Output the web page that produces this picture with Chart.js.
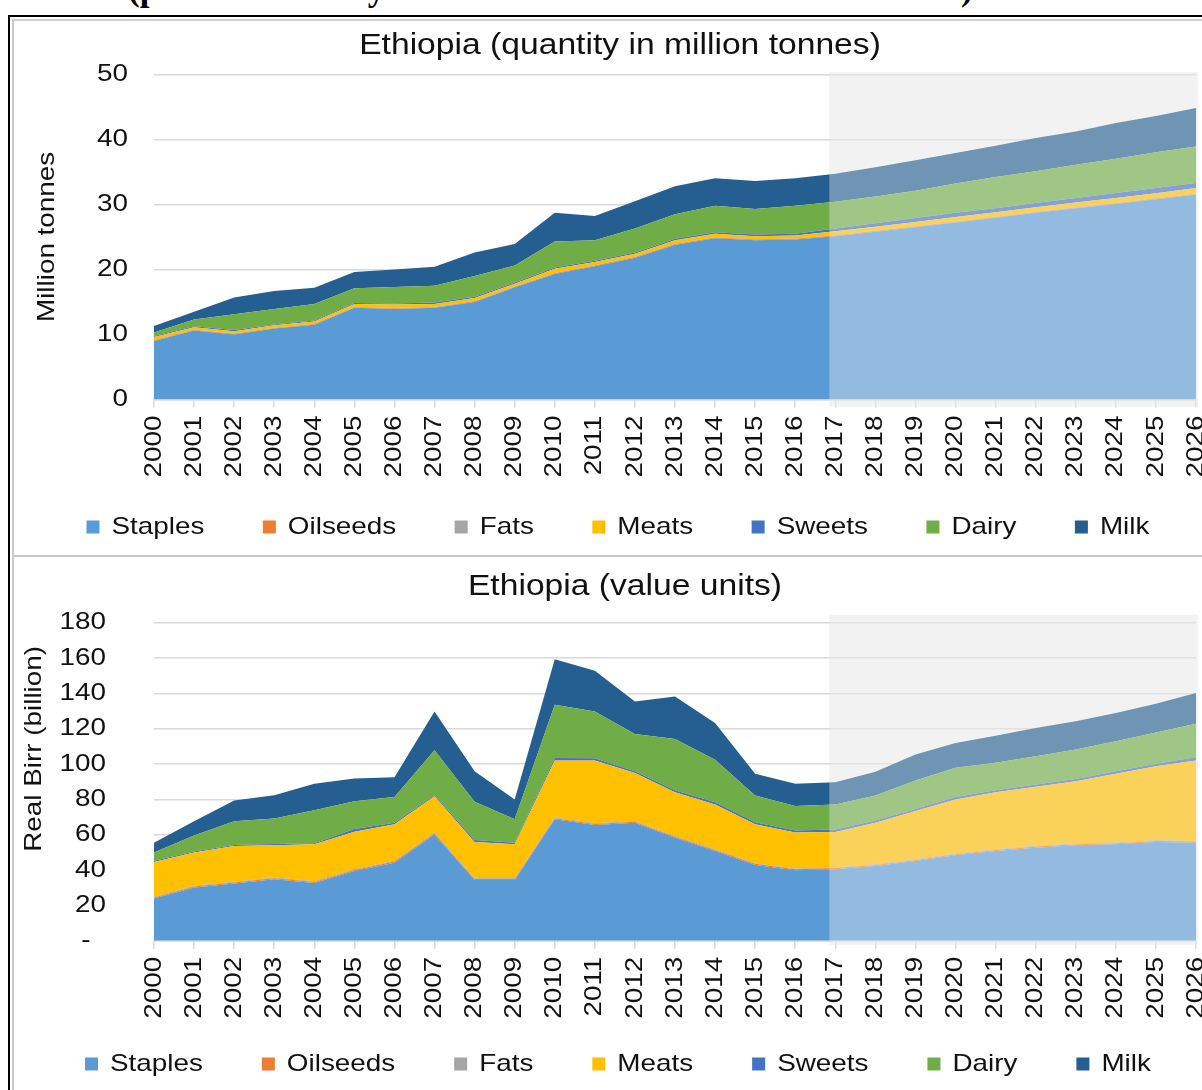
<!DOCTYPE html>
<html>
<head>
<meta charset="utf-8">
<script src="https://cdn.jsdelivr.net/npm/chart.js@4.4.0/dist/chart.umd.min.js"></script>
<style>
html,body{margin:0;padding:0;background:#fff;overflow:hidden;width:1202px;height:1090px;}
#hdr{position:absolute;left:128px;top:-20px;white-space:nowrap;font-family:'Liberation Serif','Times New Roman',serif;font-weight:bold;line-height:1;color:#000;}
canvas{position:absolute;left:12px;}
#c1{top:16px;}
#c2{top:557px;}
.ln{position:absolute;z-index:5;}
</style>
</head>
<body>
<span id="hdr">(pre-2017 history and 2017–2026 modelled in real terms)</span>
<canvas id="c1" width="1240" height="539"></canvas>
<canvas id="c2" width="1240" height="533"></canvas>
<div class="ln" style="left:8px;top:15px;width:1200px;height:2px;background:#000;"></div>
<div class="ln" style="left:12px;top:19px;width:1195px;height:2px;background:#cfcfcf;"></div>
<div class="ln" style="left:8px;top:15px;width:2px;height:1080px;background:#000;"></div>
<div class="ln" style="left:12px;top:19px;width:2px;height:1075px;background:#c8c8c8;"></div>
<div class="ln" style="left:14px;top:555px;width:1195px;height:2px;background:#c8c8c8;"></div>
<script>
// ---------------- data ----------------
const years = ['2000','2001','2002','2003','2004','2005','2006','2007','2008','2009','2010','2011','2012','2013','2014','2015','2016','2017','2018','2019','2020','2021','2022','2023','2024','2025','2026'];
const projectionStart = '2017';
const seriesNames = ['Staples','Oilseeds','Fats','Meats','Sweets','Dairy','Milk'];

// Quantity (million tonnes)
const qStaples  = [9.0,10.6,10.0,10.9,11.5,14.1,13.9,14.1,15.0,17.25,19.3,20.5,21.8,23.8,24.8,24.5,24.6,25.1,25.8,26.5,27.2,27.95,28.7,29.4,30.05,30.8,31.5];
const qOilseeds = [0.1,0.1,0.1,0.1,0.1,0.1,0.1,0.1,0.1,0.1,0.1,0.1,0.1,0.1,0.1,0.1,0.1,0.1,0.1,0.1,0.1,0.1,0.1,0.1,0.1,0.1,0.1];
const qFats     = [0.05,0.05,0.05,0.05,0.05,0.05,0.05,0.05,0.05,0.05,0.05,0.05,0.05,0.05,0.05,0.05,0.05,0.05,0.05,0.05,0.05,0.05,0.05,0.05,0.05,0.05,0.05];
const qMeats    = [0.45,0.35,0.35,0.35,0.35,0.45,0.55,0.45,0.45,0.4,0.65,0.5,0.45,0.55,0.55,0.45,0.45,0.6,0.6,0.65,0.7,0.7,0.7,0.75,0.8,0.75,0.85];
const qSweets   = [0.15,0.15,0.2,0.15,0.15,0.15,0.15,0.2,0.2,0.2,0.2,0.2,0.2,0.2,0.2,0.25,0.3,0.45,0.55,0.6,0.65,0.6,0.65,0.7,0.75,0.8,0.8];
const qDairy    = [0.55,1.05,2.4,2.35,2.55,2.25,2.55,2.6,3.2,2.6,4.0,3.15,3.7,3.8,4.1,3.95,4.3,4.1,4.1,4.2,4.5,4.8,4.9,5.1,5.25,5.5,5.6];
const qMilk     = [1.0,1.2,2.6,2.8,2.5,2.5,2.7,2.9,3.6,3.3,4.4,3.7,4.2,4.3,4.2,4.3,4.2,4.3,4.5,4.7,4.7,4.8,5.1,5.1,5.5,5.6,5.9];

// Value (Real Birr, billion)
const vStaples  = [23.9,30.1,32.4,34.8,32.6,39.5,44.2,60.2,34.3,34.3,68.7,65.5,66.8,58.3,50.8,42.9,39.9,40.5,42.3,45.1,48.4,50.8,52.7,54.0,54.6,55.9,55.5];
const vOilseeds = [0.6,0.6,0.6,0.6,0.6,0.6,0.6,0.6,0.6,0.6,0.6,0.6,0.6,0.6,0.6,0.6,0.6,0.6,0.6,0.6,0.6,0.6,0.6,0.6,0.6,0.6,0.6];
const vFats     = [0.4,0.4,0.4,0.4,0.4,0.4,0.4,0.4,0.4,0.4,0.4,0.4,0.4,0.4,0.4,0.4,0.4,0.4,0.4,0.4,0.4,0.4,0.4,0.4,0.4,0.4,0.4];
const vMeats    = [19.7,18.8,20.2,18.2,21.0,21.2,20.7,20.6,20.6,19.3,32.3,35.5,27.2,24.8,25.3,22.0,20.3,20.0,23.5,27.3,30.6,32.3,33.4,35.3,39.0,41.9,45.5];
const vSweets   = [0.6,0.6,0.6,0.8,0.6,1.6,0.9,0.7,1.1,0.9,1.5,1.3,1.0,1.1,1.3,1.2,1.2,1.5,1.2,1.2,1.3,1.1,1.3,1.3,1.3,1.4,1.9];
const vDairy    = [4.7,9.1,13.5,14.4,18.7,15.7,14.5,25.3,21.7,13.2,30.1,26.5,21.0,29.0,24.1,15.1,13.8,14.1,14.2,16.1,16.6,15.5,16.0,16.6,17.0,17.7,19.0];
const vMilk     = [5.6,8.1,11.7,13.2,14.9,12.8,11.3,22.0,17.2,11.3,25.8,23.1,18.4,24.1,20.7,12.4,12.6,12.6,13.4,14.7,14.1,15.4,16.0,16.0,16.0,16.2,17.3];

const qTicksMax = 50, qTickStep = 10;
const vTicksMax = 180, vTickStep = 20;
const zeroTickLabel = '-';

// ---------------- styling ----------------
const colors = ['#5B9BD5','#ED7D31','#A5A5A5','#FFC000','#4472C4','#70AD47','#255E91'];
const FONT = "'Liberation Sans', Arial, sans-serif";
const TXT = '#111';

// Text in the reference is horizontally wider than Arial: stretch glyphs
const SX = 1.16;
(function(){
  const P = CanvasRenderingContext2D.prototype;
  const of = P.fillText, om = P.measureText;
  P.fillText = function(t,x,y,mw){
    this.save(); this.translate(x,y); this.scale(SX,1);
    if (mw === undefined) of.call(this,t,0,0); else of.call(this,t,0,0,mw/SX);
    this.restore();
  };
  P.measureText = function(t){
    const m = om.call(this,t);
    return {width:m.width*SX, actualBoundingBoxAscent:m.actualBoundingBoxAscent, actualBoundingBoxDescent:m.actualBoundingBoxDescent,
      actualBoundingBoxLeft:m.actualBoundingBoxLeft*SX, actualBoundingBoxRight:m.actualBoundingBoxRight*SX,
      fontBoundingBoxAscent:m.fontBoundingBoxAscent, fontBoundingBoxDescent:m.fontBoundingBoxDescent};
  };
})();

// do not clip the rotated year labels to the (deliberately short) x-axis box
(function(){
  const Cat = Chart.registry.getScale('category');
  Cat.prototype._computeLabelArea = function(){ return undefined; };
})();

// header (mostly cut off at the top of the picture)
(function(){
  const h = document.getElementById('hdr');
  h.style.fontSize = '30px';
  const w = h.getBoundingClientRect().width;
  const fs = 30 * 845 / w;
  h.style.fontSize = fs + 'px';
  h.style.top = (0.5 - 0.8375*fs) + 'px';
})();

function fillShade(chart, color){
  const o = chart.options.plugins.shade;
  const {ctx, chartArea, scales} = chart;
  const x0 = scales.x.getPixelForValue(years.indexOf(projectionStart)) - 6;
  ctx.save();
  ctx.fillStyle = color;
  ctx.fillRect(x0, chartArea.top - o.topExt, chartArea.right + 2 - x0, chartArea.bottom - chartArea.top + o.topExt + o.botExt);
  ctx.restore();
}
const shadePlugin = {
  id:'shade',
  beforeDraw(chart){ fillShade(chart, '#F2F2F2'); },
  afterDatasetsDraw(chart){ fillShade(chart, 'rgba(242,242,242,0.37)'); }
};

function buildChart(id, arrays, o){
  const datasets = arrays.map((d,i)=>({
    label: seriesNames[i], data: d,
    backgroundColor: colors[i], borderColor: colors[i], borderWidth: 0,
    pointRadius: 0, pointHoverRadius: 0, tension: 0,
    fill: i === 0 ? 'origin' : '-1'
  }));
  return new Chart(document.getElementById(id), {
    type: 'line',
    data: { labels: years, datasets },
    options: {
      responsive: false, animation: false, devicePixelRatio: 1,
      events: [],
      layout: { padding: { left: o.padLeft, right: o.padRight, top: 0, bottom: o.padBottom } },
      plugins: {
        shade: { topExt: o.shadeTop, botExt: o.shadeBot },
        title: { display: true, text: o.title, color: TXT, font: { family: FONT, size: 29, weight: 'normal' }, padding: { top: 13, bottom: o.titleBottom } },
        legend: { position: 'bottom', align: 'start', labels: { boxWidth: 13, boxHeight: 13, padding: o.legPad, color: TXT, font: { family: FONT, size: 24 } } },
        tooltip: { enabled: false }
      },
      scales: {
        x: {
          grid: { drawOnChartArea: false, drawTicks: true, tickLength: 8, color: '#D9D9D9', lineWidth: 1.5 },
          border: { color: '#D9D9D9', width: 1.5 },
          ticks: { autoSkip: false, minRotation: 90, maxRotation: 90, padding: 8, color: TXT, font: { family: FONT, size: 24 } },
          afterFit(s){ s.height = o.xHeight; }
        },
        y: {
          stacked: true, min: 0, max: o.max,
          ticks: { stepSize: o.step, padding: o.tickPad, color: TXT, font: { family: FONT, size: 24 },
                   callback: (v) => v === 0 ? o.zero : String(v) },
          grid: { color: '#D9D9D9', lineWidth: 1.5, drawTicks: false },
          border: { display: false },
          title: { display: true, text: o.yTitle, align: o.yTitleAlign, color: TXT, font: { family: FONT, size: 24 }, padding: { top: o.yTitlePad, bottom: 0 } },
          afterFit(s){ s.width = 142 - o.padLeft; }
        },
        yr: {
          type: 'linear', position: 'right', display: true,
          grid: { display: false, drawTicks: false }, border: { display: false },
          ticks: { display: false },
          afterFit(s){ s.width = o.rightW; }
        }
      }
    },
    plugins: [shadePlugin]
  });
}

buildChart('c1', [qStaples,qOilseeds,qFats,qMeats,qSweets,qDairy,qMilk], {
  title: 'Ethiopia (quantity in million tonnes)', yTitle: 'Million tonnes', yTitleAlign: 'center',
  max: qTicksMax, step: qTickStep, zero: '0', tickPad: 26, padLeft: 16, yTitlePad: 4.6, legPad: 58.5,
  padRight: 40, rightW: 16, padBottom: 6, titleBottom: 10.5, xHeight: 57,
  shadeTop: 2, shadeBot: 7
});
buildChart('c2', [vStaples,vOilseeds,vFats,vMeats,vSweets,vDairy,vMilk], {
  title: 'Ethiopia (value units)', yTitle: 'Real Birr (billion)   ', yTitleAlign: 'end',
  max: vTicksMax, step: vTickStep, zero: zeroTickLabel + '  ', tickPad: 48, padLeft: 14, yTitlePad: -6.4, legPad: 59,
  padRight: 28, rightW: 28, padBottom: 4, titleBottom: 18, xHeight: 52.3,
  shadeTop: 8, shadeBot: 4
});
</script>
</body>
</html>
